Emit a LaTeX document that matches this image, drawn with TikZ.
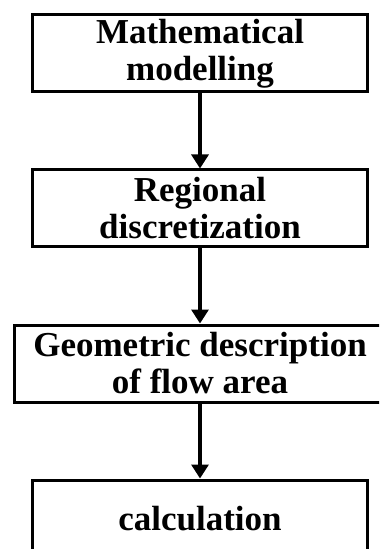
\documentclass[tikz,border=0pt]{standalone}
\usepackage{fontspec}
\setmainfont{Liberation Serif}
\usetikzlibrary{positioning,arrows.meta}

\tikzset{
    stage/.style={draw, line width=1.5pt, minimum width=167.5pt, minimum height=38.5pt,
        inner sep=0pt, align=center, font=\bfseries\fontsize{17.5}{18.5}\selectfont},
    flow/.style={line width=1.6pt, -{Triangle[width=8.5pt,length=7pt]}}
}

\begin{document}
\begin{tikzpicture}[x=0.5pt, y=-0.5pt, node distance=37.5pt]
    % Frame of the figure
    \useasboundingbox (0,0) rectangle (379,549);
    \clip (0,0) rectangle (379,549);

    % Stages
    \node [stage] (model) at (200,53.5) {Mathematical\\modelling};
    \node [stage, below=of model] (discrete) {Regional\\discretization};
    \node [stage, below=of discrete, minimum width=185.5pt] (geometry) {Geometric description\\of flow area};
    \node [stage, below=of geometry] (calc) {calculation};

    % Arrows
    \draw [flow] (model) -- (discrete);
    \draw [flow] (discrete) -- (geometry);
    \draw [flow] (geometry) -- (calc);
\end{tikzpicture}
\end{document}
